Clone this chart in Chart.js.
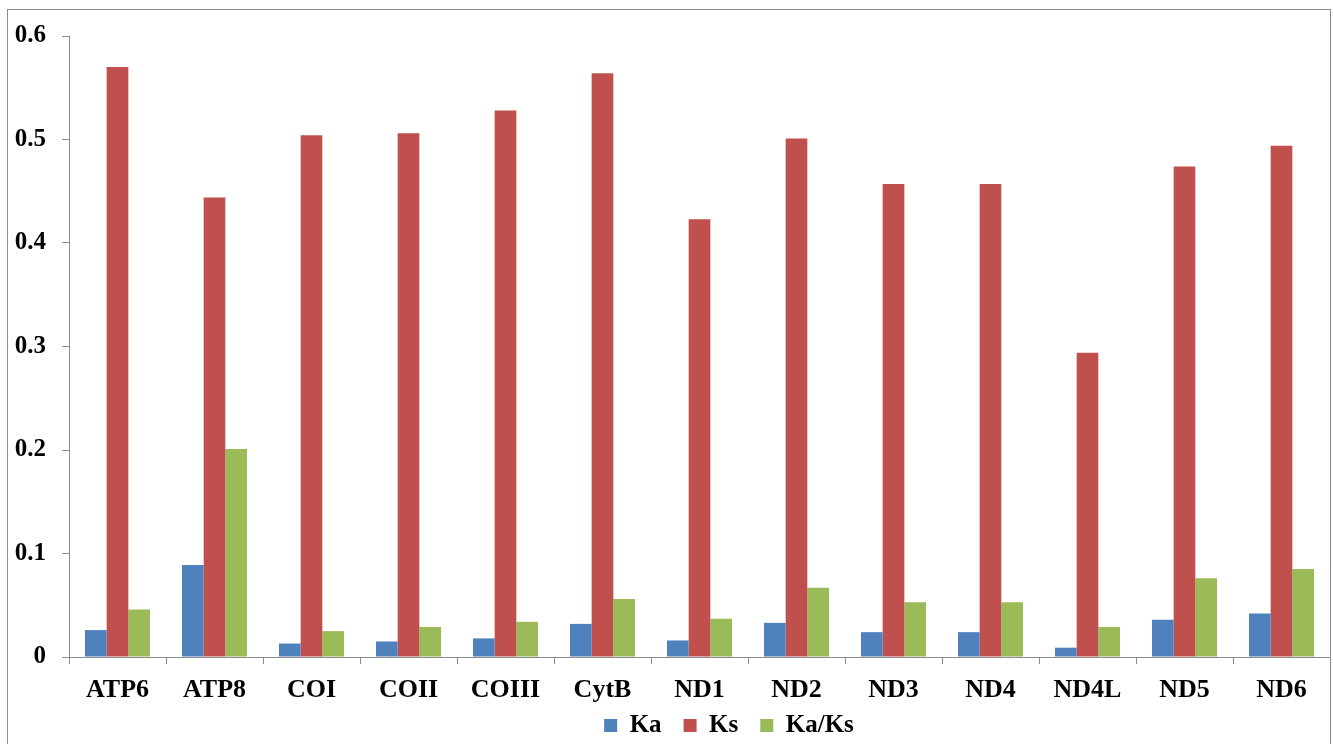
<!DOCTYPE html>
<html>
<head>
<meta charset="utf-8">
<script src="https://cdn.jsdelivr.net/npm/chart.js@4"></script>
<style>
  html, body { margin: 0; padding: 0; background: #fff; overflow: hidden; }
  #frame { position: absolute; left: 7px; top: 9px; width: 1322px; height: 800px; border: 1px solid #8c8c8c; }
  #wrap { position: absolute; left: 0; top: 0; width: 1333px; height: 766px; }
</style>
</head>
<body>
<div id="frame"></div>
<div id="wrap"><canvas id="chart"></canvas></div>
<script>
// ==== Data ====
const genes = ["ATP6", "ATP8", "COI", "COII", "COIII", "CytB", "ND1", "ND2", "ND3", "ND4", "ND4L", "ND5", "ND6"];
const ka =    [0.026, 0.089, 0.013, 0.015, 0.018, 0.032, 0.016, 0.033, 0.024, 0.024, 0.009, 0.036, 0.042];
const ks =    [0.570, 0.444, 0.504, 0.506, 0.528, 0.564, 0.423, 0.501, 0.457, 0.457, 0.294, 0.474, 0.494];
const kaKs =  [0.046, 0.201, 0.025, 0.029, 0.034, 0.056, 0.037, 0.067, 0.053, 0.053, 0.029, 0.076, 0.085];
const yTicks = [0, 0.1, 0.2, 0.3, 0.4, 0.5, 0.6];

const serif = "'Liberation Serif', 'Times New Roman', serif";
const tickFont = { family: serif, weight: "bold", size: 25 };
const catFont = { family: serif, weight: "bold", size: 26 };

// legend sits right of centre and overlaps the label band in the original
const shiftLegend = {
  id: "shiftLegend",
  afterLayout(chart) {
    const lg = chart.legend;
    lg.left += 128;
    lg.top -= 18;
    lg.bottom -= 18;
  }
};

new Chart(document.getElementById("chart"), {
  type: "bar",
  data: {
    labels: genes,
    datasets: [
      { label: "Ka", data: ka, backgroundColor: "#4f81bd" },
      { label: "Ks", data: ks, backgroundColor: "#c0504d" },
      { label: "Ka/Ks", data: kaKs, backgroundColor: "#9bbb59" }
    ]
  },
  plugins: [shiftLegend],
  options: {
    responsive: true,
    maintainAspectRatio: false,
    animation: false,
    layout: { padding: { top: 36, right: 3, left: 0, bottom: 0 } },
    datasets: { bar: { categoryPercentage: 0.67, barPercentage: 1.0 } },
    plugins: {
      tooltip: { enabled: false },
      legend: {
        position: "bottom",
        labels: { color: "#000", font: tickFont, boxWidth: 13, boxHeight: 13, padding: 22 }
      }
    },
    scales: {
      x: {
        grid: { drawOnChartArea: false, drawTicks: true, tickLength: 7, color: "#8c8c8c", offset: true },
        border: { color: "#8c8c8c", width: 1 },
        ticks: { color: "#000", font: catFont, padding: 11, maxRotation: 0 },
        afterFit: s => { s.height = 52; }
      },
      y: {
        min: 0,
        max: 0.6,
        afterBuildTicks: s => { s.ticks = yTicks.map(v => ({ value: v })); },
        grid: { drawOnChartArea: false, drawTicks: true, tickLength: 7, color: "#8c8c8c" },
        border: { color: "#8c8c8c", width: 1 },
        ticks: { color: "#000", font: tickFont, padding: 16, callback: v => v === 0 ? "0" : v.toFixed(1) },
        afterFit: s => { s.width = 69; }
      }
    }
  }
});
</script>
</body>
</html>
